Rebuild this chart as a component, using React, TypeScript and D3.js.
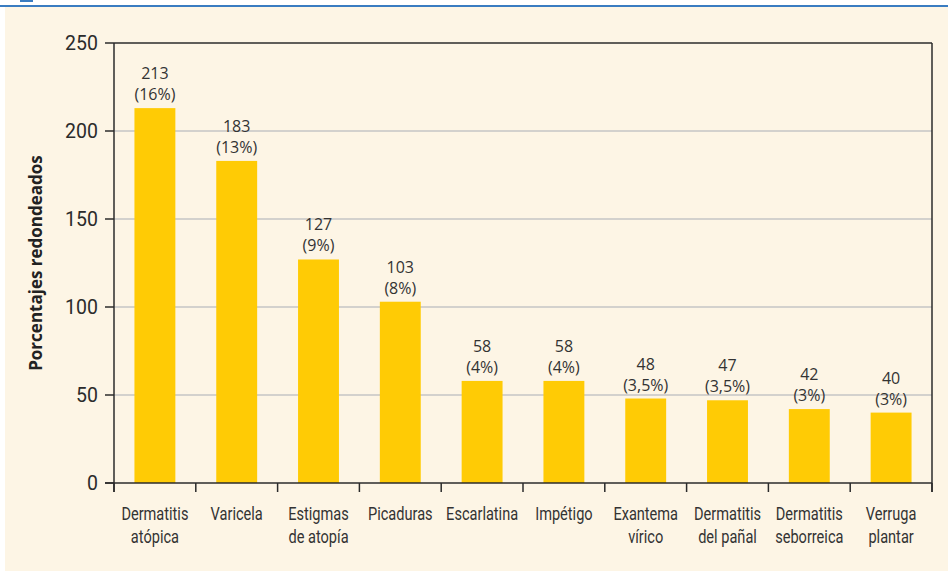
import React from 'react';
import * as d3 from 'd3';

// categories (two-line labels) and values
const categories = [
  ['Dermatitis', 'atópica'],
  ['Varicela'],
  ['Estigmas', 'de atopía'],
  ['Picaduras'],
  ['Escarlatina'],
  ['Impétigo'],
  ['Exantema', 'vírico'],
  ['Dermatitis', 'del pañal'],
  ['Dermatitis', 'seborreica'],
  ['Verruga', 'plantar'],
];
const values = [213, 183, 127, 103, 58, 58, 48, 47, 42, 40];
const percents = ['16%', '13%', '9%', '8%', '4%', '4%', '3,5%', '3,5%', '3%', '3%'];
const yTicks = [0, 50, 100, 150, 200, 250];

const width = 948;
const height = 571;
const margin = { top: 43, right: 16, bottom: 88, left: 114 };

const narrow = 'Roboto, "Liberation Sans", sans-serif';
const plain = '"Open Sans", "Noto Sans", sans-serif';

const App = () => {
  const innerWidth = width - margin.left - margin.right;
  const innerHeight = height - margin.top - margin.bottom;

  const xScale = d3.scaleBand<number>()
    .domain(d3.range(categories.length))
    .range([0, innerWidth])
    .paddingInner(0.5)
    .paddingOuter(0.25);

  // band boundaries for ticks
  const step = innerWidth / categories.length;

  const yScale = d3.scaleLinear()
    .domain([0, 250])
    .range([innerHeight, 0]);

  return (
    <svg width={width} height={height} style={{ position: 'absolute', left: 0, top: 0, display: 'block' }}>
      <rect x={0} y={0} width={width} height={height} fill="#ffffff" />
      <rect x={5} y={7} width={width - 5} height={height - 7} fill="#fdf5e5" />
      <rect x={0} y={5} width={width} height={2} fill="#3a7cc1" />
      <rect x={20} y={0} width={13} height={2} fill="#3a7cc1" />

      <g transform={`translate(${margin.left},${margin.top})`}>
        {/* grid lines */}
        {yTicks.filter((t) => t > 0 && t < 250).map((t) => (
          <line key={t} x1={0} x2={innerWidth} y1={yScale(t)} y2={yScale(t)} stroke="#c4c4c4" strokeWidth={1.5} />
        ))}

        {/* bars */}
        {values.map((v, i) => (
          <rect
            key={i}
            x={xScale(i)}
            y={yScale(v)}
            width={xScale.bandwidth()}
            height={innerHeight - yScale(v)}
            fill="#ffcb05"
          />
        ))}

        {/* value labels */}
        {values.map((v, i) => {
          const cx = (xScale(i) ?? 0) + xScale.bandwidth() / 2;
          return (
            <g key={i} fontFamily={plain} fontSize={16} fill="#333" textAnchor="middle">
              <text x={cx} y={yScale(v) - 29}>{v}</text>
              <text x={cx} y={yScale(v) - 8}>({percents[i]})</text>
            </g>
          );
        })}

        {/* frame */}
        <line x1={0} x2={innerWidth} y1={0} y2={0} stroke="#2b2b2b" strokeWidth={1.5} />
        <line x1={innerWidth} x2={innerWidth} y1={0} y2={innerHeight + 9} stroke="#2b2b2b" strokeWidth={1.5} />
        <line x1={0} x2={0} y1={0} y2={innerHeight + 9} stroke="#2b2b2b" strokeWidth={1.5} />
        <line x1={-9} x2={innerWidth} y1={innerHeight} y2={innerHeight} stroke="#2b2b2b" strokeWidth={1.5} />

        {/* y ticks */}
        {yTicks.map((t) => (
          <g key={t} transform={`translate(0,${yScale(t)})`}>
            <line x1={-9} x2={0} stroke="#2b2b2b" strokeWidth={1.5} />
            <text x={-16} dy="0.35em" textAnchor="end" fontFamily={narrow} fontSize={19.5} fill="#2b2b2b">{t}</text>
          </g>
        ))}

        {/* x ticks at band edges */}
        {d3.range(categories.length + 1).map((i) => (
          <line key={i} x1={i * step} x2={i * step} y1={innerHeight} y2={innerHeight + 9} stroke="#2b2b2b" strokeWidth={1.5} />
        ))}

        {/* category labels, squeezed horizontally like the condensed original */}
        {categories.map((lines, i) => (
          <g key={i} textAnchor="middle" fontFamily={narrow} fontSize={18} fill="#333">
            {lines.map((l, j) => (
              <text
                key={j}
                transform={`translate(${(xScale(i) ?? 0) + xScale.bandwidth() / 2},${innerHeight + 37 + j * 23}) scale(0.81,1)`}
              >
                {l}
              </text>
            ))}
          </g>
        ))}

        <text
          transform={`translate(${-72},${innerHeight / 2}) rotate(-90)`}
          textAnchor="middle"
          fontFamily={plain}
          fontWeight="bold"
          fontSize={17}
          fill="#222"
        >
          Porcentajes redondeados
        </text>
      </g>
    </svg>
  );
};

export default App;
